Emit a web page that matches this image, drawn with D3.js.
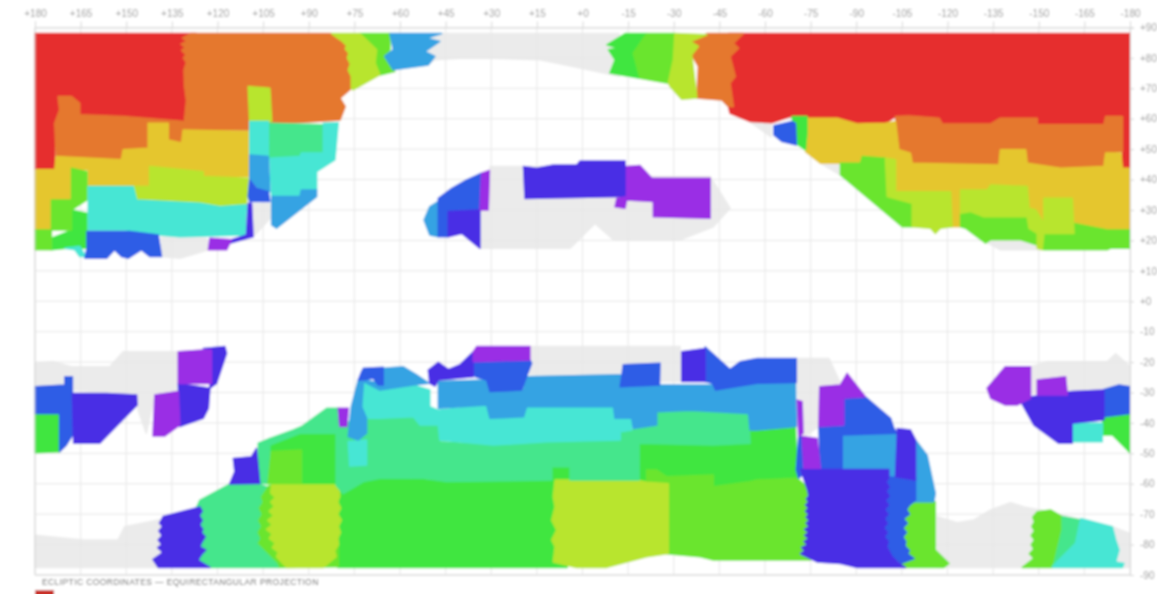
<!DOCTYPE html>
<html>
<head>
<meta charset="utf-8">
<script src="https://cdn.jsdelivr.net/npm/d3@7"></script>
<style>
  body { margin: 0; background: #fff; overflow: hidden; }
  svg { display: block; }
  text { font-family: "Liberation Sans", sans-serif; }
</style>
</head>
<body>
<svg id="chart" width="1157" height="594"></svg>
<script>
// tick values
const lonTicks = [180,165,150,135,120,105,90,75,60,45,30,15,0,-15,-30,-45,-60,-75,-90,-105,-120,-135,-150,-165,-180];
const latTicks = [90,80,70,60,50,40,30,20,10,0,-10,-20,-30,-40,-50,-60,-70,-80,-90];
const titleText = 'ECLIPTIC COORDINATES — EQUIRECTANGULAR PROJECTION';

// regions per class, [longitude, latitude] in degrees
const grayRegions = [
  [[50,88],[-12,88],[-12,74],[3,77.2],[14,79.4],[29.3,79.9],[40.3,79.9],[48.5,79.4],[51,78]],
  [[-55.1,59],[-62,58],[-62,54]],
  [[-78.2,45.4],[-84.8,45.4],[-84.8,41.5]],
  [[-132.5,19.6],[-144,20.2],[-149.5,18.5],[-151,16.9],[-137.4,16.9]],
  [[138.4,21.8],[123.6,20.7],[123,16.9],[132.4,14.1],[138.4,14.7]],
  [[108.3,32],[102.8,32.2],[102.2,27.8],[108.3,21.2]],
  [[30.4,44.3],[-16.7,44.3],[-22.2,41],[-42,41],[-48.5,30.6],[-43,24.5],[-32.1,20.2],[-10.2,20.2],[-4.1,25.6],[4.1,17.4],[33.7,17.4],[33.7,30],[30.4,43.2]],
  [[180,-20.4],[174,-19.9],[168,-21.5],[155.4,-21.5],[151,-16.6],[132.9,-16.6],[132.9,-30.3],[140.6,-30.3],[143.4,-43.4],[146.1,-35.8],[146.6,-30.8],[180,-28.1]],
  [[180,-76.9],[175.2,-77.4],[164.2,-78.5],[152.7,-78.5],[150.5,-74.1],[137,-71.4],[137,-87.5],[180,-87.5]],
  [[17.3,-14.9],[-32.1,-14.9],[-32.1,-26.4],[-25.5,-26.4],[-25.5,-20.4],[-13.4,-20.4],[-11.8,-24.8],[17.3,-24.2]],
  [[-70.3,-18.8],[-81,-18.8],[-84.8,-27],[-78.2,-28.1],[-77.7,-41.2],[-72.8,-44.5],[-71.1,-32.5],[-70.3,-27]],
  [[-116.6,-70.8],[-123.2,-72.8],[-128.7,-71.9],[-134.2,-68.6],[-140.7,-66.2],[-145.1,-67.6],[-150.6,-68.6],[-174.2,-74.1],[-180,-76.3],[-180,-87.5],[-116.6,-87.5]],
  [[-147.3,-21.5],[-152.8,-19.9],[-172.5,-19.9],[-175.3,-17.3],[-180,-21.5],[-180,-27.5],[-170.9,-28.6],[-159.4,-30.3],[-147.3,-30.3]]
];
const redRegions = [
  [[180,88],[127,88],[127,59.5],[130.7,59.1],[151,60.7],[165.3,61.3],[165.3,65.1],[168,66.8],[171.9,66.8],[171.9,62.9],[173.5,58.5],[173.5,43.2],[180,43.2]],
  [[-48,88],[-180,88],[-180,43.7],[-177.5,43.7],[-177.5,60.7],[-172,60.7],[-171.4,58],[-149.5,58],[-149.5,60.2],[-137.4,60.2],[-134.2,58.3],[-118.3,58.3],[-117.2,60.2],[-102.9,60.7],[-99.6,58.5],[-90.3,58.3],[-83.7,60.2],[-68.4,60.7],[-62.3,58.7],[-55.1,59.1],[-48.5,61.8],[-48,64]]
];
const orangeRegions = [
  [[129,88],[82.5,88],[75,85],[75,70.5],[76,70],[79.7,66.8],[78,64],[79.7,59.6],[97.3,58.5],[109.4,59],[109.4,56.3],[131.3,56.3],[131.8,52],[136.2,53],[135.7,58.5],[142.8,58.5],[142.8,50.3],[151,49.8],[151.6,46.5],[173,47.5],[173.5,58.5],[171.9,62.9],[172.4,67.3],[168,67.3],[165.3,65.1],[165.3,61.3],[151,60.7],[130.7,59.1],[130.8,60],[130.2,66],[130.8,70.6],[131,76],[130.2,78.5],[131.2,80],[130.3,81],[131.8,82.5],[130.5,83.5],[132,84.5],[130,85.5],[131.5,86.5]],
  [[-40.9,88],[-52.9,88],[-49.6,84.8],[-51.3,83.2],[-48.5,80.5],[-50.2,73.9],[-48.5,71.7],[-49.6,64],[-47.9,64],[-45.8,66.2],[-37.6,66.8],[-38.1,77.2],[-35.9,81],[-38.1,83.8],[-35.4,85.4]],
  [[-102.9,60.7],[-107.3,60.9],[-117.2,60.2],[-118.3,58.3],[-134.2,58.3],[-137.4,60.2],[-149.5,60.2],[-149.5,58],[-171.4,58],[-172,60.7],[-177.5,60.7],[-177.5,49.2],[-172,48.7],[-171.4,44.3],[-157.2,43.7],[-146.2,45.4],[-145.7,49.8],[-137.4,49.8],[-136.9,44.8],[-108.4,45.4],[-107.8,48.7],[-104,49.8]]
];
const yellowRegions = [
  [[180,43.2],[173.5,43.2],[173,47.6],[151.6,46.5],[151,49.8],[142.8,50.3],[142.8,58.5],[136.2,58.5],[136.2,53],[131.8,52],[131.3,56.3],[109.4,55.8],[109.4,41],[124.7,41],[124.7,42.6],[142.3,44.3],[142.3,37.7],[147.7,37.7],[162.5,37.7],[162.5,43.2],[168,43.2],[168,33.3],[174.6,33.3],[174.6,23.4],[180,23.4]],
  [[-73.8,60.2],[-83.7,60.2],[-90.3,58.3],[-99.6,58.5],[-102.9,59.1],[-104,49.8],[-107.8,48.7],[-108.4,45.4],[-136.9,44.8],[-137.4,49.8],[-145.7,49.8],[-146.2,45.4],[-157.2,43.7],[-171.4,44.3],[-172,48.7],[-177,48.7],[-177.5,43.7],[-180,43.7],[-180,23.4],[-172.5,23.4],[-161.6,25.6],[-151.7,24.5],[-124.3,24.5],[-121,24.5],[-121,36],[-102.9,36],[-102.9,46.5],[-90.3,45.4],[-78.2,45.4],[-73.3,49.2]]
];
const green2Regions = [
  [[168,30],[162.9,28.9],[162.9,17.4],[169.7,17.4],[174.6,16.9],[174.6,20.7],[168,23.4]],
  [[-14,88],[-21.1,88],[-16.7,81.6],[-18.9,73.3],[-9,75],[-10.7,79.4],[-8.5,82.7],[-11.8,83.2],[-8,84.3]],
  [[-68.9,60.7],[-73.8,60.7],[-73.8,55.2],[-73.3,49.8],[-70,52],[-69.5,56]],
  [[180,-36.9],[171.9,-36.9],[171.9,-49.5],[180,-49.8]],
  [[102.8,-47.3],[92.9,-43.4],[80.3,-42.9],[80.3,-60.4],[103.9,-59.9],[103.3,-50]],
  [[80.5,-60],[72,-59],[66.6,-58],[44.7,-59],[5,-58.6],[5,-87.5],[80.5,-87.5]],
  [[10.1,-54.4],[4.1,-54.4],[4.1,-58.8],[10.1,-58.8]],
  [[-18.4,-46.7],[-43,-47.3],[-55.1,-46.7],[-55.1,-42.3],[-70,-41.2],[-70.6,-58.2],[-57.4,-58.8],[-43,-61],[-43,-57.1],[-27.7,-57.7],[-24.4,-55.5],[-21.1,-55.5],[-21.1,-59.3],[-18.4,-59.3]],
  [[-170.9,-38.5],[-180,-36.9],[-180,-49.8],[-174.2,-44],[-171.4,-44]]
];
const green1Regions = [
  [[73.2,88],[63.3,88],[63.3,82.7],[64.9,79.9],[61.7,75.5],[66.6,74.4],[68.2,78.3],[67.7,82.7]],
  [[168,43.7],[162.9,42.6],[162.9,33.3],[168,30],[168,23.4],[174.6,23.4],[174.6,33.3],[168,33.3]],
  [[180,23.4],[174.6,23.4],[174.6,16.9],[180,16.9]],
  [[-21.1,88],[-30.4,88],[-29.9,79.4],[-28.2,71.7],[-18.9,73.3],[-16.7,81.6]],
  [[-84.8,45.4],[-91.4,45.4],[-92,47.6],[-99.6,47],[-100.2,34.4],[-108.4,32.2],[-108.4,24.5],[-105.1,24.5],[-84.8,41.5]],
  [[-124.3,28.9],[-127.6,29.5],[-132,27.8],[-146.2,27.8],[-146.8,24],[-149.5,22.3],[-151.7,22.3],[-161.6,22.3],[-161.6,25.6],[-172.5,23.4],[-180,23.4],[-180,17.4],[-173.6,17.4],[-172.5,16.9],[-151.7,16.9],[-149.5,18.5],[-144,20.2],[-134.2,20.2],[-132.5,19.1],[-125.9,24],[-124.3,24.5]],
  [[103.3,-49.5],[92.4,-48.9],[92.4,-59.9],[103.9,-59.9]],
  [[106.1,-62],[102.2,-60.4],[80.3,-60.4],[80.3,-87.3],[100,-87.5],[107.2,-79.6]],
  [[-21.1,-55.5],[-24.4,-55.5],[-27.7,-57.7],[-43,-57.1],[-43,-61],[-55.1,-59.3],[-57.4,-58.8],[-70.6,-58.2],[-75,-62],[-75,-83],[-75,-85.1],[-65,-85.1],[-43,-85.1],[-38.7,-84],[-27.7,-83],[-27.7,-60],[-21.1,-60]],
  [[-107.8,-65.9],[-116,-65.9],[-116,-81.8],[-120.5,-86.2],[-118.8,-87.5],[-105.7,-87.5],[-104.6,-86.2],[-104,-80],[-104,-70]],
  [[-149.5,-69.2],[-153.9,-68.6],[-157.7,-70.8],[-157.7,-75.2],[-156.1,-81.8],[-154.4,-87.5],[-144.6,-87.5],[-148.4,-84.5],[-146.9,-83],[-148.4,-81.5],[-147.5,-80],[-148.6,-78.5],[-147.5,-77],[-148.6,-75.5],[-147.7,-74],[-148.6,-72.5],[-148,-71]]
];
const limeRegions = [
  [[109.9,70.6],[102.8,70],[102.2,59.1],[109.4,59.1]],
  [[82.5,88],[73.2,88],[67.7,82.7],[68.2,78.3],[66.6,74.4],[75.4,69.5],[76,70],[76,74],[77,76],[76.3,78],[77.3,80],[76.8,81.5],[78,83],[77.5,84],[79,85.5],[80.5,86.5]],
  [[-30.4,88],[-40.9,87.6],[-35.4,85.4],[-38.1,83.8],[-35.9,81],[-37.6,66.8],[-32.6,66.4],[-28.8,70.6],[-28.2,71.7],[-29.9,79.4]],
  [[-99.6,47],[-102.9,46.5],[-102.9,36],[-121,36],[-121.5,24.5],[-117.7,24],[-116,22.3],[-114.4,24],[-108.4,24.5],[-108.4,32.2],[-100.2,34.4]],
  [[-124.3,36.6],[-133.1,36.6],[-134.2,38.2],[-146.2,37.7],[-146.8,30.6],[-149,30],[-151.7,25.6],[-151.7,33.9],[-161,33.9],[-161.6,22.3],[-151.7,22.3],[-151.1,16.9],[-149.5,17.4],[-149.5,22.3],[-146.8,24],[-146.2,27.8],[-132,27.8],[-127.6,29.5],[-124.3,28.9]],
  [[142.3,44.3],[124.7,42.6],[124.7,41],[109.9,40.4],[110.5,31.7],[119.2,31.1],[125.8,32.2],[146.6,33.3],[147.7,37.7],[142.3,37.7]],
  [[102.2,-60.4],[80.3,-60.4],[79.8,-64],[80.5,-66],[79.5,-68],[80.5,-70],[79.3,-72],[80.3,-74],[79.6,-76],[80.5,-78],[80.2,-80],[81.5,-82],[81,-84],[85.2,-87.5],[97.3,-87.5],[100.6,-84],[100,-82.5],[102,-81],[101,-79.5],[103,-78],[102,-76.5],[103.9,-75],[102,-73.5],[103.5,-72],[101.5,-70.5],[103,-69],[101.3,-67.5],[102.5,-66],[101,-64.5],[102.5,-63]],
  [[9,-58.8],[-17.8,-58.8],[-21.1,-59.5],[-28.2,-60],[-28.2,-82.9],[-21.1,-84],[-8,-87.5],[2,-87.5],[9.6,-85.7],[9,-80.7],[10.1,-78.5],[8.5,-75.2],[10.1,-72],[9,-67.6],[9.6,-64.3]]
];
const mintRegions = [
  [[103.3,58.5],[85.2,58],[85.2,48.7],[92.4,48.7],[92.9,47.6],[102.8,47]],
  [[125.8,-65.4],[116,-60.1],[106.6,-60.1],[103.9,-61],[106.1,-64.3],[105.5,-66],[106.8,-68],[105.8,-70],[107,-72],[106,-74],[107.2,-76],[106.2,-78],[107.2,-79.6],[100.6,-86.2],[100,-87.5],[122.5,-87.5],[127,-86],[127,-68]],
  [[106.6,-46.7],[102.8,-45.1],[102.8,-49.5],[103.9,-59.9],[106.6,-59.9]],
  [[102.8,-45.1],[95.1,-42.3],[92.4,-41.2],[84.1,-35.2],[80.3,-35.2],[77,-41.2],[80.3,-43.4],[92.9,-43.4],[102.8,-47.3]],
  [[81,-43],[75.5,-38.5],[66.6,-38.5],[55.6,-38],[53.4,-40.7],[47.4,-40.7],[46.9,-46.2],[29.3,-47.3],[11.8,-46.2],[-12.4,-45.6],[-12.4,-42.9],[-18.9,-41.8],[-24.4,-40.7],[-24.4,-36.3],[-35.4,-35.8],[-54.6,-36.9],[-55.1,-46.7],[-43,-47.3],[-18.6,-46.7],[-18.6,-58.8],[4.1,-58.8],[4.1,-54.4],[10.1,-54.4],[10.1,-58.8],[44.7,-59.3],[52.3,-58.2],[66.6,-58.2],[72,-59.3],[78.7,-63.2],[81,-60.5]],
  [[-157.7,-70.8],[-163.8,-71.9],[-162.1,-79.6],[-155,-86.7],[-156.1,-81.8],[-157.7,-75.2]]
];
const cyanRegions = [
  [[170.2,17.4],[165.3,18],[163.3,14.7],[165.3,14.7],[166.9,16.9]],
  [[162.5,37.7],[147.7,37.7],[146.6,33.3],[125.8,32.2],[119.2,31.1],[110.5,31.7],[111,21.8],[132.4,21.2],[139,21.8],[150,23.4],[162.5,23.4]],
  [[109.4,59.1],[103.3,59.1],[103.3,47.6],[109.4,48.1]],
  [[85.2,58.5],[80.3,58.7],[81.4,46.5],[87.4,42.6],[87.4,36.6],[92.4,36.6],[92.9,34.4],[102.2,34.4],[102.8,47],[92.9,47.6],[92.4,48.7],[85.2,48.7]],
  [[72,-26.4],[66.6,-29.2],[55.6,-27.5],[50.2,-29.2],[50.2,-34.7],[47.4,-35.8],[31.5,-34.1],[30.4,-38.5],[19.4,-38],[18.4,-34.7],[-10.2,-34.7],[-10.7,-38.5],[-16.2,-38.5],[-16.2,-42.3],[-12.4,-42.9],[-12.4,-45.6],[11.8,-46.2],[29.3,-47.3],[46.9,-45.6],[47.4,-40.7],[53.4,-40.7],[55.6,-38],[66.6,-38.5],[71,-38.5],[72.6,-34.7]],
  [[77,-46.2],[71,-45.6],[71,-53.8],[76.5,-54.2]],
  [[-161,-40.1],[-170.9,-40.1],[-170.9,-46.2],[-161,-46.2]],
  [[-163.8,-71.4],[-174.2,-74.1],[-175.3,-78.5],[-176.4,-81.8],[-175.3,-85.7],[-178,-86.2],[-177.5,-87.5],[-154.4,-87.5],[-155,-86.7],[-162.1,-79.6]]
];
const skyRegions = [
  [[63.3,88],[46.3,88],[51.2,86.5],[46.9,85.4],[51.8,82.1],[48.5,80.5],[50.7,77.7],[62.2,76.1],[65,80.5],[62.2,82.7]],
  [[109.4,48.1],[103.3,47.6],[102.8,36],[106.6,37.1],[109.4,40.4]],
  [[102.2,34.4],[92.9,34.4],[92.4,36.6],[87.4,36.6],[87.4,34.4],[100.6,24],[102.2,25.1]],
  [[47.4,32.8],[47.4,21.2],[50.2,21.8],[52.1,26.7],[50.2,31.1]],
  [[73.7,-25.9],[72,-26.4],[72.6,-34.7],[71,-38.5],[71,-43.4],[73.7,-45.6],[77,-44.5],[76,-34.7],[74.3,-28.1]],
  [[65.5,-22],[59,-21.5],[54.5,-24.2],[50.4,-27],[55.6,-27.5],[66.6,-29.2],[72,-26.4],[71.5,-26],[65.5,-27]],
  [[47.4,-26.4],[31.5,-25.9],[30.4,-29.7],[19.4,-29.2],[18.4,-24.8],[-12.4,-24.2],[-12.4,-28.1],[-25.5,-27.5],[-43,-27.5],[-54,-27.5],[-57.4,-27],[-70,-27],[-70.3,-41.2],[-57.4,-42.3],[-55.1,-42.3],[-54.6,-36.9],[-35.4,-35.8],[-24.4,-36.3],[-24.4,-40.7],[-16.7,-41.8],[-16.2,-38.5],[-10.7,-38.5],[-10.2,-34.7],[18.4,-34.7],[19.4,-38],[30.4,-38.5],[31.5,-34.1],[47.4,-35.2]],
  [[-85.7,-44],[-103.5,-43.4],[-102.9,-57.7],[-100.7,-57.7],[-100.2,-54.9],[-85.7,-54.9]],
  [[-109.5,-45.6],[-113.3,-50.6],[-116,-63.2],[-115.5,-65.9],[-107.8,-65.9],[-109.5,-65.4]]
];
const blueRegions = [
  [[109.4,39.9],[107.2,37.1],[103.3,36],[102.8,32.8],[109.4,32.8],[109.9,34.4]],
  [[162.9,22.9],[148.8,22.9],[139.5,21.8],[138.4,14.7],[142.3,14.7],[145,16.9],[149.4,14.1],[151.6,14.7],[153.8,16.9],[156.5,14.1],[163.6,14.1],[162.9,17.4]],
  [[-62.9,57.7],[-68.9,59.1],[-70,58.5],[-70.3,51.4],[-65.6,52.5],[-62.9,54.7]],
  [[33.2,42.1],[33.7,30],[44.1,29.5],[44.1,21.2],[47.4,21.2],[47.4,33.8],[43,37.1],[38.1,39.9]],
  [[180,-28.1],[170.2,-27.5],[170.2,-24.8],[167.7,-24.8],[167.7,-30.3],[167.3,-43.4],[169.7,-47.3],[171.9,-49.5],[171.9,-36.9],[180,-36.9]],
  [[72,-22],[65.5,-21.7],[65.5,-27.5],[67.2,-27.5],[68.8,-25.3],[72,-25.9],[73.7,-25.9],[72.6,-23.1]],
  [[35.9,-19.9],[17.3,-19.3],[16.7,-20.4],[18.4,-24.8],[20,-29.2],[30.4,-29.7],[31.5,-25.9],[35.3,-24.8],[36.4,-20.4]],
  [[-13.4,-20.9],[-25.5,-20.4],[-25.3,-27.5],[-12.4,-28.1]],
  [[-40.3,-15],[-48.5,-22.4],[-51.8,-19.9],[-57.4,-18.8],[-70.3,-18.8],[-70.3,-26.7],[-57.4,-27],[-43.8,-29.2],[-42.7,-27],[-40.3,-26.4]],
  [[-85.9,-31.9],[-93,-31.4],[-101.3,-38.5],[-102.4,-41.8],[-103.5,-43.4],[-85.4,-44],[-85.4,-54.9],[-78.2,-54.9],[-77.7,-41.2],[-85.9,-40.7]],
  [[-71.1,-44.5],[-72.2,-44.5],[-72.8,-54.9],[-73.8,-55.5],[-71.1,-58.2],[-70.3,-55.5]],
  [[-98.5,-57.7],[-109.5,-58.2],[-109.5,-65.4],[-107.5,-67],[-106.5,-68.5],[-107.5,-70],[-105.5,-71.5],[-106.8,-73],[-105.3,-74.5],[-106.5,-76],[-105.3,-77.5],[-106.3,-79],[-106,-80.5],[-107.5,-82],[-106.8,-83],[-109,-84.6],[-104.6,-86.2],[-101.8,-84],[-98.5,-80.7]],
  [[-171.4,-29],[-176.4,-27.5],[-180,-28.1],[-180,-36.9],[-171.4,-38]]
];
const indigoRegions = [
  [[115.4,20.2],[110.5,21.8],[109.9,32.2],[108.8,32.2],[108.3,21.2],[116,19.1]],
  [[19.4,44.3],[15.1,43.7],[9.6,44.8],[1.9,44.8],[0.8,46.1],[-14,46.1],[-14.5,34.4],[18.9,33.8]],
  [[44.1,29.5],[33.7,30],[33.7,17.4],[39.7,22.3],[44.1,21.2]],
  [[167.7,-30.3],[156.5,-30.3],[146.6,-30.8],[146.4,-34.1],[158.7,-46.7],[167.3,-46.7]],
  [[132.9,-27],[122.5,-28.6],[123,-35.2],[124.7,-38.5],[132.4,-41.2]],
  [[124.7,-15.5],[117.6,-14.9],[117,-17.1],[120.3,-27],[122.5,-28.6],[122,-16]],
  [[137.9,-70.8],[125.8,-67.6],[125,-69],[126,-70.5],[125,-72],[125.9,-73.5],[124.8,-75],[125.3,-76],[124,-77.4],[125,-79],[125.8,-80.7],[123.8,-81.8],[125,-83],[126.4,-85.1],[122.5,-87.5],[139.5,-87.5],[141.2,-84.9],[139.2,-83.5],[138,-82.5],[139.7,-81],[138.3,-80],[139.5,-78.5],[138.2,-77],[139.3,-75.5],[138,-74],[139.1,-73],[138.5,-72]],
  [[107.2,-48.4],[106.1,-59.9],[116,-60.1],[114.3,-56],[114.8,-51.7],[108.8,-51.1]],
  [[50.7,-22.6],[47.4,-20.1],[44.1,-22.4],[40.3,-20.9],[35.9,-16.6],[35.9,-24.8],[47.4,-25.9],[48.5,-27.9],[50.2,-27]],
  [[-32.6,-16.6],[-40.3,-15.5],[-40.3,-26.4],[-32.6,-26.4]],
  [[-71.7,-55.3],[-100.7,-55.3],[-100.7,-58],[-99.8,-59.5],[-100.8,-61],[-99.8,-62.5],[-100.8,-64],[-99.5,-65.5],[-100.6,-67],[-99.3,-68.5],[-100.4,-70],[-99.2,-71.5],[-100.2,-73],[-99,-74.5],[-100.2,-76],[-99.2,-77.5],[-100.5,-79],[-100,-80.7],[-101.8,-84],[-104,-86.2],[-106.2,-87.5],[-90.3,-87.5],[-84.8,-86.2],[-77.1,-85.7],[-71.7,-83],[-73.2,-82],[-72,-81],[-74,-80],[-72.8,-79],[-74.4,-78],[-73,-77],[-74.4,-76],[-73,-75],[-74.6,-74],[-73.5,-73],[-74.6,-72],[-73.5,-71],[-74.4,-70],[-73.3,-69],[-74.4,-68],[-73.3,-67],[-74.4,-66],[-73.6,-65],[-74.4,-64],[-74,-62]],
  [[-103.5,-41.8],[-107.8,-42.3],[-109.5,-45.6],[-109.5,-58.8],[-102.9,-57.7],[-103.5,-43.4]],
  [[-143.5,-31.9],[-161,-29.7],[-171.4,-29.2],[-171.4,-39],[-161,-40.1],[-161,-46.7],[-156.6,-46.7],[-148.4,-40.7]]
];
const purpleRegions = [
  [[122.5,20.7],[115.4,20.2],[117,16.9],[123,16.9]],
  [[-14.5,44.3],[-18.9,44.6],[-22.8,40.4],[-42,40.4],[-42,27.3],[-23.3,27.8],[-23.3,32.8],[-14.5,33.3],[-14,30.6],[-10.7,31.1],[-11.3,33.8],[-14.5,34.4]],
  [[33.2,42.1],[30.6,43],[31,30],[33.7,30]],
  [[140.6,-30.8],[132.9,-29.7],[132.4,-40.7],[137.3,-44.3],[141.2,-44.3]],
  [[132.9,-16.6],[124.7,-16],[122,-16],[122,-27],[132.9,-27]],
  [[80.3,-35.2],[77,-35.2],[77.5,-41.2],[79.8,-41.2]],
  [[34.8,-14.9],[17.3,-14.9],[17.3,-19.3],[35.9,-19.9],[35.9,-16.6]],
  [[-70.6,-32.5],[-72.2,-33],[-72.5,-43.4],[-71.1,-44.5]],
  [[-78,-28.1],[-84.8,-27.5],[-87,-23.7],[-93,-31.4],[-85.9,-31.9],[-85.9,-40.7],[-77.7,-41.2]],
  [[-72.2,-44.5],[-77.1,-45.1],[-78.2,-54.9],[-72.8,-54.9]],
  [[-133,-28.6],[-139,-21.5],[-147.3,-21.5],[-147.3,-31.9],[-142.9,-34.1],[-139,-34.1],[-134.2,-31.9]],
  [[-149.5,-25.9],[-158.8,-24.8],[-159.4,-30.8],[-149.5,-30.8]]
];

const width = 1157, height = 594;
const margin = { top: 27.5, right: 27, bottom: 19, left: 35 };

const svg = d3.select('#chart');

// same blur as the source image
svg.append('defs').append('filter')
    .attr('id', 'soft')
    .attr('x', 0).attr('y', 0)
    .attr('width', '100%').attr('height', '100%')
    .append('feGaussianBlur')
    .attr('stdDeviation', 0.9);

const root = svg.append('g').attr('filter', 'url(#soft)');
root.append('rect').attr('width', width).attr('height', height).attr('fill', '#fff');

const xScale = d3.scaleLinear()
    .domain([180, -180])
    .range([margin.left, width - margin.right]);

const yScale = d3.scaleLinear()
    .domain([90, -90])
    .range([margin.top, height - margin.bottom]);

const signed = d => d >= 0 ? `+${d}` : `${d}`;

const outline = d3.line()
    .x(d => xScale(d[0]))
    .y(d => yScale(d[1]))
    .curve(d3.curveLinearClosed);

// stroke in the fill colour closes the seams between neighbours
const drawRegions = (regions, fill) => {
    root.append('g')
        .selectAll('path')
        .data(regions)
        .enter()
        .append('path')
        .attr('d', outline)
        .attr('fill', fill)
        .attr('stroke', fill)
        .attr('stroke-width', 1.5)
        .attr('stroke-linejoin', 'round');
};

// gray sits under the grid, the coloured classes on top of it
drawRegions(grayRegions, '#ebebeb');

root.append('g').selectAll('line')
    .data(lonTicks)
    .enter()
    .append('line')
    .attr('x1', d => xScale(d)).attr('x2', d => xScale(d))
    .attr('y1', margin.top).attr('y2', height - margin.bottom)
    .attr('stroke', '#e6e6e6');

root.append('g').selectAll('line')
    .data(latTicks)
    .enter()
    .append('line')
    .attr('x1', margin.left).attr('x2', width - margin.right)
    .attr('y1', d => yScale(d)).attr('y2', d => yScale(d))
    .attr('stroke', '#e6e6e6');

drawRegions(redRegions, '#e62e2e');
drawRegions(orangeRegions, '#e5782e');
drawRegions(yellowRegions, '#e5c62e');
drawRegions(green2Regions, '#40e640');
drawRegions(green1Regions, '#6ae52e');
drawRegions(limeRegions, '#b8e52e');
drawRegions(mintRegions, '#45e68c');
drawRegions(cyanRegions, '#47e6d4');
drawRegions(skyRegions, '#36a3e3');
drawRegions(blueRegions, '#2e5de6');
drawRegions(indigoRegions, '#4a2ee5');
drawRegions(purpleRegions, '#9a2ee5');

// Axes

const xAxis = d3.axisTop(xScale)
    .tickValues(lonTicks)
    .tickFormat(signed)
    .tickSize(6)
    .tickPadding(5);

const yAxis = d3.axisRight(yScale)
    .tickValues(latTicks)
    .tickFormat(signed)
    .tickSize(4)
    .tickPadding(6);

const gx = root.append('g')
    .attr('transform', `translate(0,${margin.top})`)
    .call(xAxis);

const gy = root.append('g')
    .attr('transform', `translate(${width - margin.right},0)`)
    .call(yAxis);

[gx, gy].forEach(g => {
    g.selectAll('.domain').attr('stroke', '#d4d4d4');
    g.selectAll('line').attr('stroke', '#d4d4d4');
    g.selectAll('text')
        .attr('fill', '#999')
        .attr('font-size', '10px')
        .style('font-family', '"Liberation Sans", sans-serif');
});

// left and bottom frame
root.append('line')
    .attr('x1', margin.left).attr('x2', margin.left)
    .attr('y1', margin.top).attr('y2', height - margin.bottom)
    .attr('stroke', '#d4d4d4');

root.append('line')
    .attr('x1', margin.left).attr('x2', width - margin.right)
    .attr('y1', height - margin.bottom).attr('y2', height - margin.bottom)
    .attr('stroke', '#d4d4d4');

// Label and the start of the legend, cut off by the window

root.append('text')
    .attr('x', 42)
    .attr('y', 585)
    .attr('fill', '#666')
    .attr('font-size', '8.5px')
    .attr('letter-spacing', '0.4px')
    .text(titleText);

root.append('rect')
    .attr('x', margin.left)
    .attr('y', 590)
    .attr('width', 19)
    .attr('height', 8)
    .attr('fill', '#c9302c');
</script>
</body>
</html>
